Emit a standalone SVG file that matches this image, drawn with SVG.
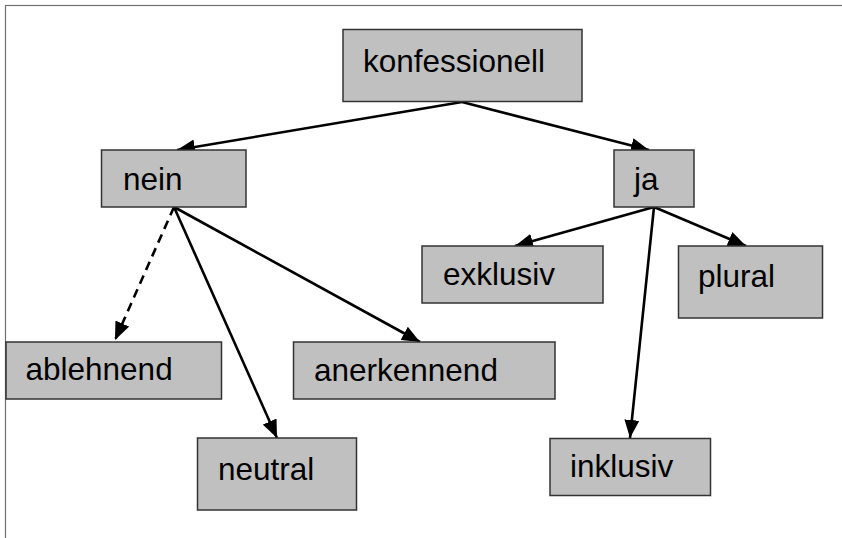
<svg xmlns="http://www.w3.org/2000/svg" width="842" height="538" viewBox="0 0 842 538">
  <style>
    .box { fill: #c0c0c0; stroke: #333333; stroke-width: 1.5; }
    .lbl { font-family: "Liberation Sans", Arial, sans-serif; font-size: 31.5px; fill: #000000; }
    .edge { fill: none; stroke: #000000; stroke-width: 2.6; marker-end: url(#arrow); }
    .dashed { stroke-dasharray: 9 6; }
    .frame { fill: none; stroke: #707070; stroke-width: 1.2; }
  </style>
  <defs>
    <marker id="arrow" markerUnits="userSpaceOnUse" markerWidth="19" markerHeight="16" refX="18" refY="8" orient="auto">
      <path d="M0,0.5 L18,8 L0,15.5 z" fill="#000000"/>
    </marker>
  </defs>
  <rect width="842" height="538" fill="#ffffff"/>
  <rect class="frame" x="5.5" y="5.5" width="900" height="600"/>

  <g id="connectors">
    <line class="edge" x1="462" y1="102" x2="177" y2="150"/>
    <line class="edge" x1="462" y1="102" x2="649" y2="150"/>
    <line class="edge dashed" x1="174" y1="207" x2="115" y2="340"/>
    <line class="edge" x1="174" y1="207" x2="277" y2="438"/>
    <line class="edge" x1="174" y1="207" x2="420" y2="342"/>
    <line class="edge" x1="654" y1="207" x2="515" y2="246"/>
    <line class="edge" x1="654" y1="207" x2="746" y2="246"/>
    <line class="edge" x1="654" y1="207" x2="630" y2="438"/>
  </g>

  <g id="node-konfessionell">
    <rect class="box" x="343" y="29.5" width="239" height="72"/>
    <text class="lbl" x="363" y="72">konfessionell</text>
  </g>
  <g id="node-nein">
    <rect class="box" x="101.5" y="150" width="144.5" height="57"/>
    <text class="lbl" x="123" y="190">nein</text>
  </g>
  <g id="node-ja">
    <rect class="box" x="614" y="150" width="80" height="57"/>
    <text class="lbl" x="634" y="190">ja</text>
  </g>
  <g id="node-exklusiv">
    <rect class="box" x="422" y="246" width="181" height="57"/>
    <text class="lbl" x="443" y="285">exklusiv</text>
  </g>
  <g id="node-plural">
    <rect class="box" x="678.5" y="246" width="144" height="72"/>
    <text class="lbl" x="698" y="287">plural</text>
  </g>
  <g id="node-ablehnend">
    <rect class="box" x="6" y="342" width="215.5" height="57"/>
    <text class="lbl" x="25.5" y="380">ablehnend</text>
  </g>
  <g id="node-anerkennend">
    <rect class="box" x="293.5" y="342" width="261.5" height="57"/>
    <text class="lbl" x="314" y="381">anerkennend</text>
  </g>
  <g id="node-neutral">
    <rect class="box" x="197.5" y="438" width="159" height="72"/>
    <text class="lbl" x="218" y="480">neutral</text>
  </g>
  <g id="node-inklusiv">
    <rect class="box" x="550" y="438.5" width="160.5" height="57"/>
    <text class="lbl" x="570" y="477">inklusiv</text>
  </g>
</svg>
